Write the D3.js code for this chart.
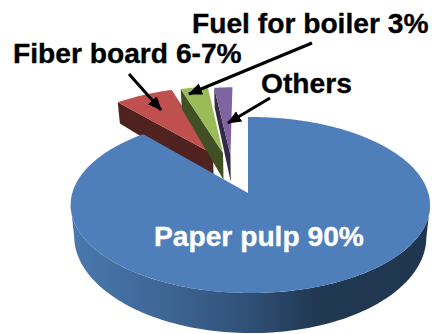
<!DOCTYPE html>
<html>
<head>
<meta charset="utf-8">
<script src="https://cdn.jsdelivr.net/npm/d3@7/dist/d3.min.js"></script>
<style>
html,body{margin:0;padding:0;background:#fff;}
svg{display:block;}
text{font-family:"Liberation Sans",Arial,sans-serif;font-weight:700;}
</style>
</head>
<body>
<svg id="chart" width="432" height="334"></svg>
<script>
// Wood chip end uses, as labelled on the chart
const categories = ["Paper pulp", "Fiber board", "Fuel for boiler", "Others"];
const shares = [90, 6.5, 3, 2];
const topColors = ["#4f7fbb", "#c0504d", "#9bbb59", "#8064a2"];
const sideColors = ["#36587f", "#4f211f", "#414f25", "#352a45"];

// How far each slice is pulled out of the disc, in disc units
const pullU = [0, -0.21, -0.15, -0.105];
const pullV = [0, 0.481, 0.494, 0.47];

// Camera for the tilted disc: z = 0 is the top face, z = -1 the bottom face.
// The wall height shrinks toward the back of the disc through depthFade.
const cam = {cx: 248, cy: 193, R: 178, tiltY: -86.4, tiltDepth: -31.2, depthFade: 0.2, persV: 0.136, persU: -0.013, persZ: -0.02};
function project(u, v, z) {
  const den = 1 + cam.persV * v + cam.persU * u + cam.persZ * z;
  const drop = cam.tiltDepth * z * (1 - cam.depthFade * v);
  return [cam.cx + cam.R * u / den, cam.cy + (cam.tiltY * v + drop) / den];
}
const pointAt = (a, r) => [r * Math.sin(a), r * Math.cos(a)];

const svg = d3.select("#chart");
const path = d3.line();

const defs = svg.append("defs");
const sideGrad = defs.append("linearGradient").attr("id", "rimShade")
  .attr("gradientUnits", "userSpaceOnUse").attr("x1", 71).attr("x2", 430).attr("y1", 0).attr("y2", 0);
[[0, "#4a78ae"], [0.25, "#3f6796"], [0.5, "#2f5076"], [0.68, "#213853"], [1, "#1f3550"]]
  .forEach(([o, c]) => sideGrad.append("stop").attr("offset", o).attr("stop-color", c));

defs.append("marker").attr("id", "head").attr("markerUnits", "userSpaceOnUse")
  .attr("viewBox", "0 0 14 14").attr("refX", 13).attr("refY", 7)
  .attr("markerWidth", 14).attr("markerHeight", 14).attr("orient", "auto")
  .append("path").attr("d", "M0,1L14,7L0,13Z").attr("fill", "#000");

const arcs = d3.pie().sort(null).value(d => d)(shares);
const arcSteps = (a0, a1, n) => d3.range(n + 1).map(i => a0 + (a1 - a0) * i / n);

// The pulled-out slices go first so that the main slice overlaps them
[1, 2, 3].forEach(i => {
  const {startAngle: a0, endAngle: a1} = arcs[i];
  const shift = ([u, v]) => [u + pullU[i], v + pullV[i]];
  const apex = shift([0, 0]);
  const outer = shift(pointAt(a0, 1));
  // Radial wall facing the viewer, along the slice's counter-clockwise edge
  svg.append("path")
    .attr("d", path([project(apex[0], apex[1], 0), project(outer[0], outer[1], 0),
                     project(outer[0], outer[1], -1), project(apex[0], apex[1], -1)]) + "Z")
    .attr("fill", sideColors[i]);
  const rim = arcSteps(a0, a1, 24).map(a => {
    const [u, v] = shift(pointAt(a, 1));
    return project(u, v, 0);
  });
  svg.append("path")
    .attr("d", path([project(apex[0], apex[1], 0), ...rim]) + "Z")
    .attr("fill", topColors[i]);
});

// Front rim of the main slice
const rimAngles = arcSteps(97.8 * Math.PI / 180, 262.2 * Math.PI / 180, 120);
const rimTop = rimAngles.map(a => { const [u, v] = pointAt(a, 1); return project(u, v, 0); });
const rimBottom = rimAngles.map(a => { const [u, v] = pointAt(a, 1); return project(u, v, -1); }).reverse();
svg.append("path").attr("d", path([...rimTop, ...rimBottom]) + "Z").attr("fill", "url(#rimShade)");

// Top face of the main slice
const main = arcs[0];
const mainRim = arcSteps(main.startAngle, main.endAngle, 240).map(a => {
  const [u, v] = pointAt(a, 1);
  return project(u, v, 0);
});
svg.append("path").attr("d", path([project(0, 0, 0), ...mainRim]) + "Z").attr("fill", topColors[0]);

// Callout arrows
[[129, 74, 161, 110], [312, 43, 189, 94], [270, 98, 228, 123]].forEach(([x1, y1, x2, y2]) => {
  svg.append("line").attr("x1", x1).attr("y1", y1).attr("x2", x2).attr("y2", y2)
    .attr("stroke", "#000").attr("stroke-width", 3).attr("marker-end", "url(#head)");
});

// Labels, with a hairline outline to thicken the bold face
const labels = [
  {text: `${categories[2]} ${shares[2]}%`, x: 192, y: 33, fill: "#000"},
  {text: `${categories[1]} 6-7%`, x: 13, y: 63, fill: "#000"},
  {text: categories[3], x: 261, y: 93, fill: "#000"},
  {text: `${categories[0]} ${shares[0]}%`, x: 154, y: 246, fill: "#fff"}
];
svg.selectAll("text.label").data(labels).join("text").attr("class", "label")
  .attr("x", d => d.x).attr("y", d => d.y).attr("fill", d => d.fill)
  .attr("stroke", d => d.fill).attr("stroke-width", 0.35)
  .attr("font-size", 28.2).text(d => d.text);
</script>
</body>
</html>
